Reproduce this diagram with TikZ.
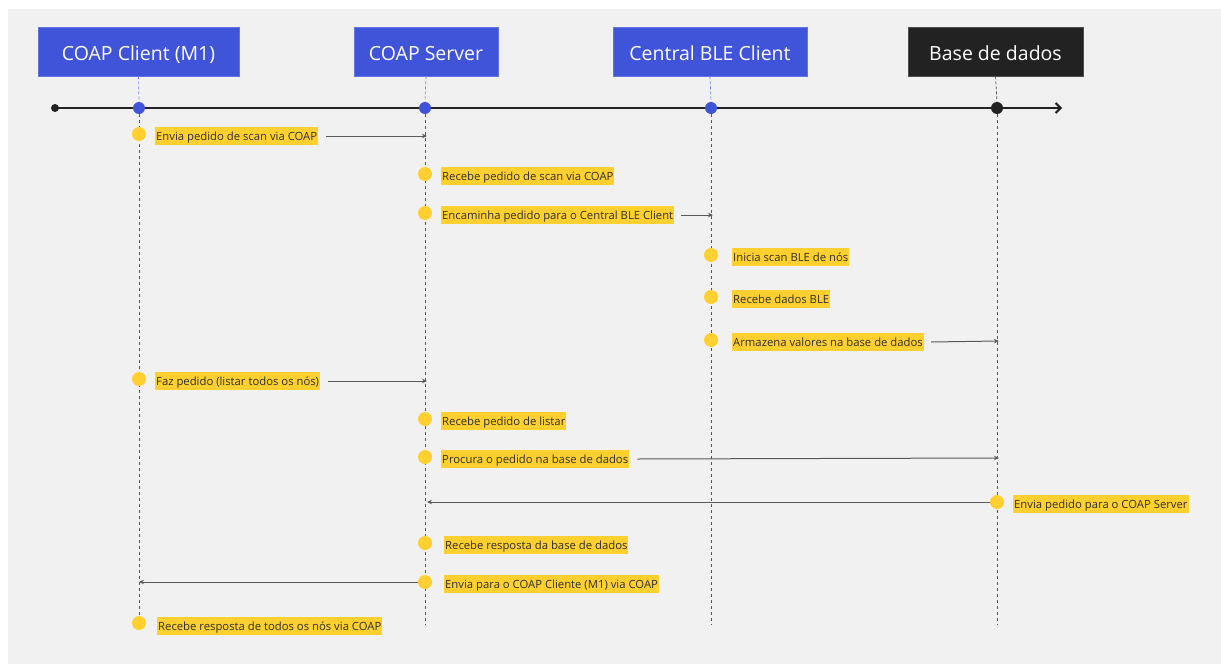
\documentclass[tikz,border=0pt]{standalone}
\usepackage{fontspec}
\setmainfont{Open Sans}
\usetikzlibrary{arrows.meta}
\definecolor{panel}{HTML}{F1F1F1}
\definecolor{actorblue}{HTML}{3F54D9}
\definecolor{actordark}{HTML}{222222}
\definecolor{noteyellow}{HTML}{FFD02F}
\definecolor{notetext}{HTML}{2E2E2E}
\definecolor{lifegrey}{HTML}{555555}
\definecolor{msggrey}{HTML}{5A5A5A}
\tikzset{
  actor/.style={draw=#1!80!white, line width=0.6pt, fill=#1, text=white, minimum height=49pt,
    inner sep=0pt, text height=17pt, text depth=0pt, font=\fontsize{19.5}{22}\selectfont},
  tick/.style={circle, fill=#1, inner sep=0pt, minimum size=12pt},
  stub/.style={actorblue!70!white, dashed, line width=0.7pt, dash pattern=on 3pt off 2pt},
  lifeline/.style={lifegrey, line width=0.8pt, dash pattern=on 3pt off 3pt},
  evdot/.style={circle, fill=noteyellow, inner sep=0pt, minimum size=14pt},
  note/.style={fill=noteyellow, text=notetext, anchor=west, inner xsep=1pt, inner ysep=0pt,
    minimum height=18pt, text height=10pt, text depth=2pt, font=\fontsize{11.3}{13}\selectfont},
  msg/.style={msggrey, line width=1pt, -{Stealth[length=5pt,width=4.5pt]}},
}
\begin{document}
\begin{tikzpicture}[x=1pt,y=-1pt]
  \useasboundingbox (0,0) rectangle (1221,664);
  \fill[white] (0,0) rectangle (1221,664);
  \fill[panel] (8,9) rectangle (1221,664);

  % participants
  \node[actor=actorblue, minimum width=201pt] (h1) at (138.5,51.5) {COAP Client (M1)};
  \node[actor=actorblue, minimum width=144pt] (h2) at (426,51.5) {COAP Server};
  \node[actor=actorblue, minimum width=194pt] (h3) at (710,51.5) {Central BLE Client};
  \node[actor=actordark, minimum width=175pt] (h4) at (995.5,51.5) {Base de dados};

  % time axis with one marker per participant
  \node[circle, fill=actordark, inner sep=0pt, minimum size=8pt] (t0) at (55,108) {};
  \coordinate (tend) at (1062,108);
  \draw[actordark, line width=2pt, -{Straight Barb[length=5pt,width=10pt]}] (t0.center) -- (tend);
  \node[tick=actorblue] (t1) at (139,108) {};
  \node[tick=actorblue] (t2) at (425,108) {};
  \node[tick=actorblue] (t3) at (711,108) {};
  \node[tick=actordark] (t4) at (997,108) {};
  \foreach \i in {1,2,3}{ \draw[stub] (h\i.south) -- (t\i.north); }
  \draw[stub, lifegrey] (h4.south) -- (t4.north);

  % lifelines
  \coordinate (b1) at (139,625);
  \coordinate (b2) at (425,625);
  \coordinate (b3) at (711,625);
  \coordinate (b4) at (997,625);
  \foreach \i in {1,2,3,4}{ \draw[lifeline] (t\i.south) -- (b\i); }

  % events
  \node[evdot] (e1) at (139,134) {};
  \node[note] (n1) at (155,136) {Envia pedido de scan via COAP};
  \node[evdot] (e2) at (425,174) {};
  \node[note] (n2) at (441,176) {Recebe pedido de scan via COAP};
  \node[evdot] (e3) at (425,213) {};
  \node[note] (n3) at (441,215) {Encaminha pedido para o Central BLE Client};
  \node[evdot] (e4) at (711,255) {};
  \node[note] (n4) at (732,257) {Inicia scan BLE de nós};
  \node[evdot] (e5) at (711,297) {};
  \node[note] (n5) at (732,299) {Recebe dados BLE};
  \node[evdot] (e6) at (711,340) {};
  \node[note] (n6) at (732,342) {Armazena valores na base de dados};
  \node[evdot] (e7) at (139,379) {};
  \node[note] (n7) at (155,381) {Faz pedido (listar todos os nós)};
  \node[evdot] (e8) at (425,419) {};
  \node[note] (n8) at (441,421) {Recebe pedido de listar};
  \node[evdot] (e9) at (425,457) {};
  \node[note] (n9) at (441,459) {Procura o pedido na base de dados};
  \node[evdot] (e10) at (997,502) {};
  \node[note] (n10) at (1013,504) {Envia pedido para o COAP Server};
  \node[evdot] (e11) at (425,543) {};
  \node[note] (n11) at (444,545) {Recebe resposta da base de dados};
  \node[evdot] (e12) at (425,582) {};
  \node[note] (n12) at (444,584) {Envia para o COAP Cliente (M1) via COAP};
  \node[evdot] (e13) at (139,623) {};
  \node[note] (n13) at (157,626) {Recebe resposta de todos os nós via COAP};

  % messages
  \coordinate (m1) at (427,136);
  \coordinate (m3) at (713,215);
  \coordinate (m6) at (999,341);
  \coordinate (m7) at (427,381);
  \coordinate (m9) at (999,458);
  \coordinate (m10) at (427,502);
  \coordinate (m12) at (139,582);
  \draw[msg] ([xshift=8pt]n1.east) -- (m1);
  \draw[msg] ([xshift=7pt]n3.east) -- (m3);
  \draw[msg] ([xshift=7pt]n6.east) -- (m6);
  \draw[msg] ([xshift=8pt]n7.east) -- (m7);
  \draw[msg] ([xshift=8pt]n9.east) -- (m9);
  \draw[msg] (e10.west) -- (m10);
  \draw[msg] (e12.west) -- (m12);
\end{tikzpicture}
\end{document}
